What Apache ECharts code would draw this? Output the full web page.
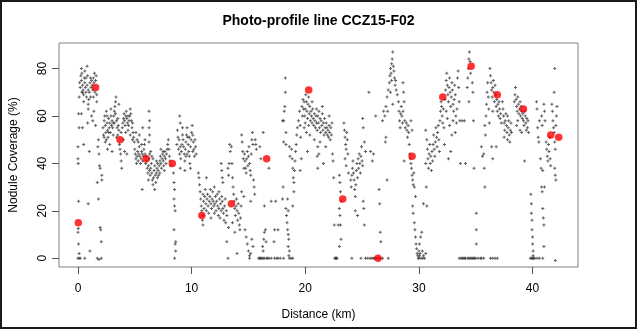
<!DOCTYPE html>
<html>
<head>
<meta charset="utf-8">
<title>Photo-profile line CCZ15-F02</title>
<script src="https://cdn.jsdelivr.net/npm/echarts@6/dist/echarts.min.js"></script>
<style>
  html, body { margin: 0; padding: 0; background: #ffffff; }
  #chart { width: 637px; height: 329px; }
</style>
</head>
<body>
<div id="chart"></div>
<script>
// Axis ticks
const distanceTicks = [0, 10, 20, 30, 40];
const coverageTicks = [0, 20, 40, 60, 80];

// Individual photo estimates [distance km, nodule coverage %], by stretch of the line
const photosKm0to3 = [
  [0.0,0],[0.1,0],[0.2,0],[0.1,2],[0.05,6],[0.0,11],[0.02,12.5],[0.05,24],[0.0,42],[0.02,40],[0.0,47],[0.1,55],[0.05,61],[0.1,68],
  [0.15,74],[0.2,72],[0.25,77],[0.3,80],[0.35,78],[0.3,75],[0.4,73],[0.45,71],[0.5,69],[0.4,70],[0.55,76],[0.6,79],[0.6,74],[0.65,72],
  [0.7,70],[0.75,68],[0.8,81],[0.85,77],[0.8,73],[0.9,71],[0.95,67],[1.0,70],[1.05,74],[1.1,76],[1.15,72],[1.2,75],[1.25,73],[1.3,71],
  [1.35,76],[1.4,74],[1.45,78],[1.5,70],[1.55,75],[1.6,77],[1.65,69],[0.5,66],[0.9,65],[1.1,68],[0.35,70],[0.7,76],
  [0.9,23],[1.05,3],[0.6,0],[0.9,63],[0.85,57],[0.5,48],[0.3,61],[0.4,55],[1.0,45],[1.2,60],[1.3,58],[1.35,68],[1.4,62],[1.55,56],
  [1.65,66],[1.7,32],[1.75,47],[1.8,25],[1.7,0],[1.85,-0.5],[2.05,0],[1.8,50],[1.85,44],[1.9,39],[1.95,38],[1.95,13],[2.0,12],[2.05,7],
  [2.1,35],[2.1,33],
  [2.2,55],[2.25,52],[2.3,58],[2.35,60],[2.4,56],[2.45,53],[2.5,50],[2.5,62],[2.55,57],[2.6,54],[2.65,51],[2.7,59],[2.75,55],[2.8,57],
  [2.85,53],[2.9,60],[2.95,56],[2.6,46],[2.4,49],[2.8,48],[2.9,63],[2.3,51],[2.7,53],[2.55,60]
];

const photosKm3to6 = [
  [3.0,58],[3.05,55],[3.1,52],[3.15,60],[3.2,57],[3.2,62],[3.25,64],[3.3,66],[3.35,68],[3.3,61],[3.4,58],[3.45,55],[3.5,52],[3.55,56],
  [3.6,54],[3.65,48],[3.7,46],[3.75,44],[3.8,41],[3.85,38],[3.8,53],[3.9,55],[3.95,57],[4.0,59],[4.05,61],[4.1,58],[4.15,56],[4.2,60],
  [4.25,62],[4.3,59],[4.35,57],[4.4,54],[4.45,56],[4.5,58],[4.55,60],[4.6,63],[4.65,61],[4.7,58],[4.75,55],[4.8,57],[4.85,53],[4.9,51],
  [4.95,49],[4.1,45],[4.3,44],[4.6,52],[4.0,50],[3.6,65],[3.0,45],[3.1,57],[3.4,51],[3.5,59],[4.2,53],[4.4,60],[4.8,50],
  [5.0,46],[5.05,44],[5.1,42],[5.15,40],[5.2,43],[5.25,45],[5.3,41],[5.35,44],[5.4,47],[5.45,43],[5.5,40],[5.55,42],[5.6,45],[5.65,44],
  [5.7,41],[5.75,43],[5.8,46],[5.85,48],[5.9,44],[5.95,40],[5.65,29],[5.2,50],[5.4,52],[5.7,55],[5.9,50],[5.6,48],[5.1,53],[5.3,49]
];

const photosKm6to9 = [
  [6.25,62],[6.3,58],[6.25,55],[6.3,52],[6.25,49],
  [6.0,43],[6.05,41],[6.1,38],[6.15,36],[6.2,39],[6.25,42],[6.3,37],[6.35,35],[6.4,38],[6.45,40],[6.5,36],[6.55,33],[6.6,31],[6.65,34],
  [6.7,37],[6.75,39],[6.8,35],[6.85,32],[6.9,36],[6.95,38],[7.0,40],[7.05,37],[7.1,35],[7.15,39],[7.2,41],[7.25,43],[7.3,40],[7.35,38],
  [7.4,42],[7.45,44],[7.5,41],[7.55,39],[7.6,43],[7.65,45],[7.7,42],[7.75,40],[7.8,44],[7.85,46],[7.9,48],[7.95,50],[8.0,46],[8.05,43],
  [8.1,41],[8.15,39],[6.3,44],[6.6,42],[7.0,34],[7.3,46],[6.2,33],[6.75,29],[6.5,43],[7.6,37],[6.9,41],[7.2,36],[7.5,45],[6.4,45],
  [8.4,36],[8.45,32],[8.5,29],[8.45,25],[8.5,22],[8.55,20],[8.45,12],[8.6,7],[8.55,6],[8.6,3],[8.5,0],
  [8.95,60],[9.0,57],[8.75,54],[8.8,51],[8.7,48],[8.85,46],[8.9,50],[8.95,44]
];

const photosKm9to13 = [
  [9.0,47],[9.05,42],[9.1,45],[9.15,48],[9.2,52],[9.25,50],[9.3,47],[9.35,44],[9.4,41],[9.45,46],[9.5,49],[9.55,52],[9.6,55],[9.65,51],
  [9.7,48],[9.75,45],[9.8,43],[9.85,40],[9.9,47],[9.95,50],[10.0,53],[10.05,56],[10.1,52],[10.15,49],[10.2,46],[10.25,43],[10.3,50],
  [10.35,47],[9.0,38],[9.4,37],[9.6,44],[9.2,55],[9.9,38],[10.4,44],[9.5,43],[9.8,51],[10.1,45],
  [10.6,36],[10.65,34],[10.7,31],[10.75,28],[10.8,25],[10.85,22],[10.9,20],[10.95,16],[11.0,14],[11.0,27],[11.05,24],[11.1,21],[11.15,26],
  [11.2,29],[11.25,23],[11.3,20],[11.35,25],[11.4,27],[11.45,22],[11.5,19],[11.55,24],[11.6,26],[11.65,29],[11.7,23],[11.75,21],[11.8,25],
  [11.85,28],[11.9,24],[11.95,22],[12.0,19],[12.05,23],[12.1,26],[12.15,20],[12.2,24],[12.25,27],[12.3,22],[12.35,18],[12.4,21],[12.45,25],
  [12.5,17],[12.55,23],[12.6,20],[12.65,26],[12.7,24],[12.75,21],[12.8,19],[12.85,16],[12.9,22],[12.95,25],[11.3,34],[11.0,18],[12.0,30],
  [12.4,28],[11.7,17]
];

const photosKm13to16 = [
  [13.0,15],[13.05,20],[13.1,18],[12.6,40],[12.65,37],[12.7,34],[12.75,32],[13.1,7],[13.2,38],[13.25,35],[13.3,40],[13.35,48],[13.4,45],
  [13.25,13],[13.2,0],
  [13.5,47],[13.55,40],[13.6,34],[13.65,30],[13.7,27],[13.75,24],[13.8,21],[13.85,18],[13.9,22],[13.95,25],[14.0,20],[14.05,16],[14.1,23],
  [14.15,19],[14.2,14],[14.25,12],[14.3,17],[14.35,22],[14.4,28],[14.4,52],[14.45,49],[14.5,45],[14.55,42],[14.6,38],[13.6,15],[13.8,11],
  [14.0,2],
  [14.65,44],[14.7,41],[14.75,38],[14.8,36],[14.85,42],[14.9,45],[14.95,39],[15.0,43],[15.05,47],[15.1,40],[15.15,37],[15.2,35],[15.25,44],
  [15.3,50],[15.35,53],[15.4,48],[15.45,33],[15.5,30],[15.55,27],[15.6,50],[15.65,48],[15.7,46],[14.7,12],[14.8,9],[14.9,6],[15.0,3],
  [15.1,1],[15.1,0],[15.2,2],[15.3,8],[15.4,5],[15.2,24],[14.6,26]
];

const photosKm16to21 = [
  [15.9,0],[16.0,0],[16.05,0],[16.1,0],[16.2,0],[16.3,0],[16.4,0],[16.6,0],[16.7,0],[16.8,0],[17.0,0],[17.3,0],[17.5,0],[17.6,0],[17.8,0],
  [18.1,0],
  [16.25,5],[16.3,3],[16.35,8],[16.4,11],[16.3,53],[16.4,22],[16.55,7],[16.5,12],[16.8,38],[17.0,24],[17.25,7],[17.3,12],[16.1,42],
  [16.0,47],[17.6,12],[17.4,24],
  [18.25,76],[18.25,70],[18.2,64],[18.15,62],[18.1,58],[18.0,58],[18.1,49],[18.3,53],[18.3,48],[18.0,25],[18.05,30],
  [18.3,21],[18.35,18],[18.4,15],[18.45,12],[18.5,10],[18.55,8],[18.5,5],[18.6,3],[18.55,1],[18.6,0],[18.75,0],[18.9,0],[18.5,20],
  [18.45,25],
  [18.6,47],[18.65,43],[18.8,46],[18.85,42],[18.9,38],[18.95,34],[19.0,32],[19.05,37],[19.1,41],[19.15,45],[19.2,48],[19.25,52],[19.3,55],
  [19.0,28],[18.9,22],
  [19.4,58],[19.5,62],[19.55,56],[19.6,51],[19.7,64],[19.75,60],[19.8,67],[19.85,63],[19.9,66],[19.95,60],[20.0,63],[20.05,69],[20.1,66],
  [20.15,62],[20.2,59],[20.25,65],[20.3,68],[20.35,61],[20.4,64],[20.45,58],[20.5,62],[20.55,60],[20.6,57],[20.65,63],[20.7,59],
  [20.75,56],[20.8,61],[20.85,58],[20.9,55],[20.95,60],[21.0,57],[21.05,54],[21.1,38],[21.1,47],[19.65,42],[19.55,37],[20.2,45],
  [19.9,55],[20.1,53],[20.4,52],[20.6,66],[20.8,50],[21.0,63],[20.0,57],[20.3,56]
];

const photosKm21to26 = [
  [21.1,60],[21.15,57],[21.2,62],[21.25,55],[21.3,59],[21.35,53],[21.4,58],[21.45,56],[21.5,61],[21.55,54],[21.6,57],[21.65,52],[21.7,59],
  [21.75,55],[21.8,53],[21.85,57],[21.9,55],[21.95,52],[22.0,54],[22.05,51],[22.1,56],[22.15,53],[22.2,50],[22.25,55],[22.3,52],
  [22.35,57],[21.5,64],[21.3,49],[21.2,44],[21.05,43],[21.6,40],[22.4,44],[22.45,41],[22.5,34],[22.55,14],[21.8,47],[22.1,60],
  [22.6,0],[22.65,0],[22.7,0],[22.75,0],[22.8,0],
  [23.0,35],[23.05,32],[23.1,28],[23.15,24],[23.0,21],[23.05,18],[23.1,14],[23.15,8],[23.0,5],[22.9,14],
  [23.4,57],[23.45,54],[23.5,51],[23.55,48],[23.6,46],[23.65,53],[23.7,50],[23.75,44],[23.5,42],[23.6,39],[23.8,36],
  [24.0,33],[24.05,30],[24.1,35],[24.15,38],[24.2,41],[24.25,36],[24.3,33],[24.35,29],[24.4,26],[24.45,31],[24.5,37],[24.55,40],[24.6,34],
  [24.65,42],[24.7,38],[24.75,44],[24.8,40],[24.85,36],[24.9,43],[24.95,47],[25.0,41],[25.05,39],[25.1,24],[25.15,21],[24.6,18],[24.4,20],
  [25.2,14],[24.1,0],[24.9,0],
  [25.05,59],[25.1,55],[25.2,49],[25.3,45],
  [25.3,0],[25.5,0],[25.7,0],[25.85,0],[26.0,0],[26.1,0],[26.2,0],[26.3,0],[26.5,0],[26.6,0],[26.8,0],[27.3,0],
  [25.6,70],[25.75,45],[25.9,41],[26.0,44],[26.2,60],[26.5,29],[26.55,23],[26.6,11],[26.65,7]
];

const photosKm27to31 = [
  [26.8,58],[26.9,62],[27.0,60],[27.1,64],[27.2,68],[27.25,62],[27.3,71],[27.1,51],[27.2,33],[27.05,49],
  [27.4,74],[27.45,77],[27.5,80],[27.55,78],[27.6,82],[27.65,84],[27.7,87],[27.75,81],[27.8,79],[27.85,76],[27.9,73],[27.95,75],[28.0,71],
  [27.6,75],[27.5,70],[27.7,65],
  [28.1,69],[28.2,66],[28.25,62],[28.3,58],[28.35,55],[28.4,61],[28.45,64],[28.5,60],[28.55,57],
  [28.6,74],[28.65,70],[28.7,66],[28.6,62],[28.75,58],[28.7,41],[28.8,55],
  [28.9,57],[28.95,54],[29.0,51],[29.05,56],[29.1,53],[29.15,48],[29.2,44],[29.25,42],[29.3,40],[29.35,38],[29.4,35],[29.45,33],[29.5,31],
  [29.55,36],[29.45,22],[29.5,19],[29.6,15],[29.65,12],[29.7,9],[29.75,6],[29.8,4],[29.85,2],[29.9,1],[29.95,0],[30.0,3],[30.05,6],
  [29.7,26],[29.6,30],[29.3,58],[29.4,54],
  [30.0,0],[30.05,1],[30.1,2],[30.2,0],[30.3,3],[30.4,1],[30.5,0],[30.6,2],[30.15,9],[30.25,11],[30.35,0],[30.4,23],
  [30.6,54],[30.65,30],[30.7,50],[30.75,46],[30.8,42],[30.85,38],[30.9,44],[30.95,48],[31.0,40],[31.05,43],[31.1,37],[31.15,45],[31.2,41],
  [31.25,48],[31.3,52],[31.35,46],[31.4,43],[31.45,49],[31.5,55],[31.55,51],[31.6,47],[31.65,53],[31.7,56],[31.75,50],[31.8,45],[30.6,40],
  [30.7,22]
];

const photosKm32to36 = [
  [31.85,58],[31.9,62],[31.95,66],[32.0,64],[32.05,60],[32.1,57],[32.15,63],[32.2,55],[32.25,48],
  [32.3,67],[32.35,71],[32.4,75],[32.45,78],[32.5,73],[32.55,69],[32.6,66],[32.65,72],[32.7,76],[32.75,70],[32.8,64],[32.85,68],[32.9,74],
  [32.95,71],[33.0,65],[33.05,62],[33.1,67],[33.15,73],[33.2,69],[33.25,60],[33.3,57],[33.35,63],[33.4,76],[33.45,79],[33.5,72],[33.55,66],
  [32.5,59],[32.7,56],[32.9,52],[33.0,58],[33.6,58],[33.65,40],[32.8,45],[32.6,42],[33.2,53],[32.4,62],
  [33.8,58],[34.1,40],[34.0,58],
  [33.55,0],[33.7,0],[33.8,0],[33.9,0],[34.0,0],[34.1,0],[34.3,0],[34.4,0],[34.5,0],[34.6,0],[34.7,0],[34.8,0],[34.9,0],[35.0,0],[35.2,0],
  [35.4,0],[35.5,0],[35.7,0],[36.3,0],[36.5,0],[36.7,0],[36.9,0],
  [34.25,72],[34.3,76],[34.35,80],[34.4,84],[34.45,87],[34.5,83],[34.55,78],[34.7,74],[34.75,70],[34.4,66],
  [34.8,58],[34.85,38],[35.05,19],[35.05,12],[35.05,6],
  [35.7,44],[35.75,38],[35.8,30],[35.85,52],[35.9,60],[35.95,65],[36.0,70],[36.05,74],[36.1,68],[36.15,63],[36.2,57],[35.8,56],
  [35.5,47],[35.6,43]
];

const photosKm36to42 = [
  [36.25,80],[36.3,77],[36.35,74],[36.4,71],[36.45,68],[36.5,72],[36.55,75],[36.6,70],[36.65,66],[36.7,73],[36.75,69],[36.8,64],[36.85,67],
  [36.9,62],[36.95,65],[37.0,60],[37.05,66],[37.1,63],[37.15,59],[37.2,61],[37.25,57],[36.4,47],[36.5,42],[36.5,62],[36.8,47],
  [37.35,66],[37.4,63],[37.45,60],[37.5,57],[37.55,54],[37.6,58],[37.65,61],[37.7,56],[37.75,53],[37.8,50],[37.85,55],[37.9,58],[37.95,52],
  [38.0,49],[38.05,54],[38.1,57],[38.15,53],[37.5,51],[37.8,60],
  [38.4,66],[38.45,69],[38.5,72],[38.55,67],[38.6,64],[38.65,62],[38.7,68],[38.75,65],[38.8,61],[38.85,63],[38.9,66],[38.95,60],[39.0,64],
  [39.05,62],[39.1,59],[39.15,61],[39.2,58],[39.25,56],[39.3,62],[39.35,60],[39.4,57],[39.45,54],[39.5,59],[39.55,55],[39.6,58],[39.65,53],
  [38.6,56],[38.7,58],[38.9,54],[39.3,41],[39.05,53],
  [39.85,27],[39.9,23],[39.9,19],[39.95,16],[39.95,12],[40.0,9],[40.0,6],[40.05,3],[40.05,1],
  [39.8,0],[39.9,0],[40.0,0],[40.05,0],[40.1,0],[40.2,0],[40.4,0],[40.6,0],[40.9,0],
  [40.35,66],[40.4,63],[40.45,55],[40.5,51],[40.55,49],[40.6,58],
  [40.7,42],[40.75,38],[40.8,30],[40.85,28],[40.9,21],[40.95,17],[41.0,14],[41.05,30],[40.9,37],[40.8,60],[40.85,56],
  [41.0,65],[41.05,62],[41.0,5],[41.1,58],
  [41.2,49],[41.25,46],[41.3,43],[41.35,41],[41.4,48],[41.45,45],[41.5,51],[41.55,42],[41.6,39],
  [41.7,65],[41.75,62],[41.8,58],[41.85,55],[41.9,53],[41.95,49],[42.0,46],[42.05,56],[42.1,60],[42.15,64],[41.95,38],[42.0,35],[42.05,33],
  [41.95,80],[41.9,70],[42.0,-1]
];

// Station averages along the line
const stationMeans = [
  [0.03,15],[1.55,72],[3.7,50],[6.0,42],[8.3,40],[10.9,18],[13.5,23],[16.6,42],[20.3,71],[23.3,25],
  [26.4,0],[29.4,43],[32.1,68],[34.6,81],[36.9,69],[39.2,63],[41.6,52],[42.3,51]
];

const photoPoints = [].concat(
  photosKm0to3, photosKm3to6, photosKm6to9, photosKm9to13, photosKm13to16,
  photosKm16to21, photosKm21to26, photosKm27to31, photosKm32to36, photosKm36to42
);

const FONT = '"Liberation Sans", Arial, sans-serif';
const chart = echarts.init(document.getElementById('chart'), null, { renderer: 'canvas' });

chart.setOption({
  animation: false,
  backgroundColor: '#ffffff',
  title: {
    text: 'Photo-profile line CCZ15-F02',
    left: 'center',
    top: 9,
    textStyle: { fontFamily: FONT, fontSize: 14, fontWeight: 'bold', color: '#000' }
  },
  grid: {
    left: 59, right: 59, top: 43, bottom: 62,
    show: true, borderColor: '#808080', borderWidth: 1, backgroundColor: 'transparent'
  },
  xAxis: {
    type: 'value',
    min: -1.67, max: 44.0,
    splitLine: { show: false },
    axisLine: { show: false, onZero: false },
    axisTick: { show: true, customValues: distanceTicks, length: 7, lineStyle: { color: '#555' } },
    axisLabel: { customValues: distanceTicks, margin: 16, fontFamily: FONT, fontSize: 12, color: '#000' }
  },
  yAxis: {
    type: 'value',
    min: -3.7, max: 90.8,
    splitLine: { show: false },
    axisLine: { show: false, onZero: false },
    axisTick: { show: true, customValues: coverageTicks, length: 7, lineStyle: { color: '#555' } },
    axisLabel: { customValues: coverageTicks, rotate: 90, margin: 10, fontFamily: FONT, fontSize: 12, color: '#000' }
  },
  graphic: [
    { type: 'text', left: 'center', top: 309,
      style: { text: 'Distance (km)', font: '12px ' + FONT, fill: '#000' } },
    { type: 'text', x: 8, y: 155, rotation: Math.PI / 2, originX: 0, originY: 0,
      style: { text: 'Nodule Coverage (%)', font: '12px ' + FONT, fill: '#000', align: 'center', verticalAlign: 'top' } },
    { type: 'rect', shape: { x: 1, y: 1, width: 635, height: 327 },
      style: { fill: 'none', stroke: '#1a1a1a', lineWidth: 2 }, z: 100 }
  ],
  series: [
    {
      name: 'photos', type: 'scatter', data: photoPoints,
      symbol: 'path://M1,0H2V1H3V2H2V3H1V2H0V1H1Z', symbolSize: 3,
      itemStyle: { color: '#3a3a3a' }, z: 2, silent: true
    },
    {
      name: 'stations', type: 'scatter', data: stationMeans,
      symbol: 'circle', symbolSize: 7.5,
      itemStyle: { color: '#ff0000' }, z: 3, silent: true
    }
  ]
});
</script>
</body>
</html>
